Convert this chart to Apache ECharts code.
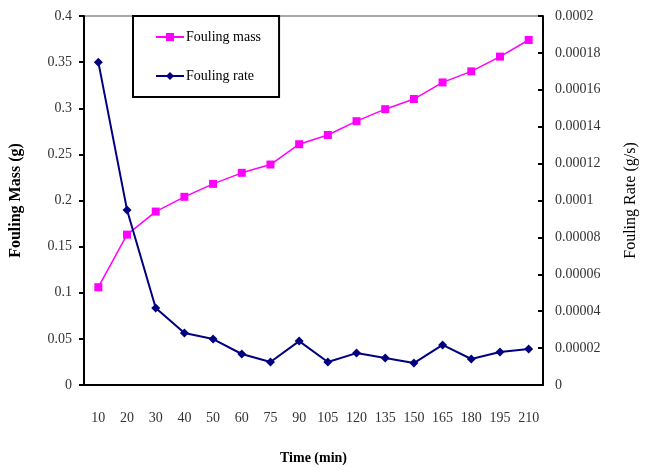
<!DOCTYPE html>
<html>
<head>
<meta charset="utf-8">
<script src="https://cdn.jsdelivr.net/npm/echarts@6/dist/echarts.min.js"></script>
<style>
  html, body { margin: 0; padding: 0; background: #fff; }
  #container { width: 651px; height: 470px; }
</style>
</head>
<body>
<div id="container"></div>
<script>
// x categories (time, min)
var timeLabels = ['10', '20', '30', '40', '50', '60', '75', '90', '105', '120', '135', '150', '165', '180', '195', '210'];
// fouling mass (g), left axis
var foulingMass = [0.106, 0.163, 0.188, 0.204, 0.218, 0.230, 0.239, 0.261, 0.271, 0.286, 0.299, 0.310, 0.328, 0.340, 0.356, 0.374];
// fouling rate (g/s), right axis
var foulingRate = [0.000175, 0.0000949, 0.0000417, 0.0000282, 0.0000249, 0.0000168, 0.0000125, 0.0000238,
    0.0000125, 0.0000173, 0.0000146, 0.0000119, 0.0000217, 0.0000141, 0.0000179, 0.0000195];

var serif = '"Liberation Serif", "Times New Roman", serif';

var myChart = echarts.init(document.getElementById('container'));
var option = {
    animation: false,
    backgroundColor: '#fff',
    grid: {
        left: 81,
        right: 108,
        top: 16,
        bottom: 85,
        show: true,
        borderColor: '#555',
        borderWidth: 1
    },
    legend: {
        orient: 'vertical',
        left: 133,
        top: 16,
        padding: [14, 18, 14, 22],
        itemGap: 25,
        itemWidth: 28,
        itemHeight: 10,
        borderColor: '#000',
        borderWidth: 2,
        textStyle: { fontFamily: serif, fontSize: 14, color: '#000', padding: [0, 0, 0, -3] },
        data: ['Fouling mass', 'Fouling rate']
    },
    xAxis: {
        type: 'category',
        data: timeLabels,
        boundaryGap: true,
        name: 'Time (min)',
        nameLocation: 'middle',
        nameGap: 66,
        nameTextStyle: { fontFamily: serif, fontSize: 14, fontWeight: 'bold', color: '#000' },
        axisLine: { lineStyle: { color: '#000', width: 2 } },
        axisTick: { inside: true, length: 7, lineStyle: { color: '#000', width: 2 } },
        axisLabel: { margin: 26, fontFamily: serif, fontSize: 14, color: '#333' },
        splitLine: { show: false }
    },
    yAxis: [
        {
            type: 'value',
            position: 'left',
            min: 0,
            max: 0.4,
            interval: 0.05,
            name: 'Fouling Mass (g)',
            nameLocation: 'middle',
            nameRotate: 90,
            nameGap: 60,
            nameTextStyle: { fontFamily: serif, fontSize: 16, fontWeight: 'bold', color: '#000' },
            axisLine: { show: true, lineStyle: { color: '#000', width: 2 } },
            axisTick: { show: true, length: 5, lineStyle: { color: '#000', width: 2 } },
            axisLabel: { margin: 12, fontFamily: serif, fontSize: 14, color: '#333' },
            splitLine: { show: false }
        },
        {
            type: 'value',
            position: 'right',
            min: 0,
            max: 0.0002,
            interval: 0.00002,
            name: 'Fouling Rate (g/s)',
            nameLocation: 'middle',
            nameRotate: 90,
            nameGap: 80,
            nameTextStyle: { fontFamily: serif, fontSize: 16, color: '#000' },
            axisLine: { show: true, lineStyle: { color: '#000', width: 2 } },
            axisTick: { show: true, inside: true, length: 5, lineStyle: { color: '#000', width: 2 } },
            axisLabel: {
                margin: 12, fontFamily: serif, fontSize: 14, color: '#333',
                formatter: function (v) {
                    return String(parseFloat(v.toPrecision(6)));
                }
            },
            splitLine: { show: false }
        }
    ],
    series: [
        {
            name: 'Fouling mass',
            type: 'line',
            yAxisIndex: 0,
            data: foulingMass,
            symbol: 'rect',
            symbolSize: 8,
            color: '#FF00FF',
            lineStyle: { color: '#FF00FF', width: 1.5 },
            itemStyle: { color: '#FF00FF' }
        },
        {
            name: 'Fouling rate',
            type: 'line',
            yAxisIndex: 1,
            data: foulingRate,
            symbol: 'diamond',
            symbolSize: 9,
            color: '#000080',
            lineStyle: { color: '#000080', width: 2 },
            itemStyle: { color: '#000080' }
        }
    ]
};
myChart.setOption(option);
</script>
</body>
</html>
